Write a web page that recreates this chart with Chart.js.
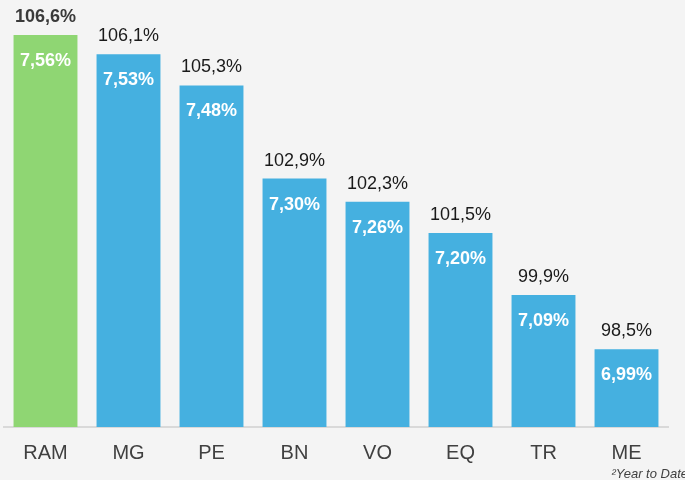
<!DOCTYPE html>
<html>
<head>
<meta charset="utf-8">
<script src="https://cdn.jsdelivr.net/npm/chart.js@4"></script>
<style>
  html, body { margin: 0; padding: 0; background: #f4f4f4; }
  #wrap { width: 685px; height: 480px; position: relative; }
</style>
</head>
<body>
<div id="wrap"><canvas id="chart" width="685" height="480"></canvas></div>
<script>
  // categories and values
  const categories = ['RAM', 'MG', 'PE', 'BN', 'VO', 'EQ', 'TR', 'ME'];
  const indexValues = [106.6, 106.1, 105.3, 102.9, 102.3, 101.5, 99.9, 98.5];
  const rateValues = [7.56, 7.53, 7.48, 7.30, 7.26, 7.20, 7.09, 6.99];
  const footnote = '²Year to Date';

  const GREEN = '#8fd673';
  const BLUE = '#45b0e0';

  const fmt = (v, d) => v.toFixed(d).replace('.', ',') + '%';

  // labels above and inside each bar
  const barLabels = {
    id: 'barLabels',
    afterDatasetsDraw(chart) {
      const ctx = chart.ctx;
      const meta = chart.getDatasetMeta(0);
      ctx.save();
      ctx.textAlign = 'center';
      ctx.textBaseline = 'alphabetic';
      meta.data.forEach((bar, i) => {
        ctx.font = (i === 0 ? 'bold ' : '') + '18px "Liberation Sans", Arial, sans-serif';
        ctx.fillStyle = i === 0 ? '#3a3a3a' : '#1a1a1a';
        ctx.fillText(fmt(indexValues[i], 1), bar.x, bar.y - 13);
        ctx.font = 'bold 18px "Liberation Sans", Arial, sans-serif';
        ctx.fillStyle = '#ffffff';
        ctx.fillText(fmt(rateValues[i], 2), bar.x, bar.y + 31);
      });
      ctx.font = 'italic 13px "Liberation Sans", Arial, sans-serif';
      ctx.fillStyle = '#404040';
      ctx.textAlign = 'right';
      ctx.fillText(footnote, 688, 478);
      ctx.restore();
    }
  };

  new Chart(document.getElementById('chart').getContext('2d'), {
    type: 'bar',
    data: {
      labels: categories,
      datasets: [{
        data: indexValues,
        backgroundColor: categories.map((c, i) => i === 0 ? GREEN : BLUE),
        borderWidth: 0,
        barPercentage: 0.77,
        categoryPercentage: 1
      }]
    },
    options: {
      responsive: false,
      animation: false,
      events: [],
      layout: { padding: { left: 4, right: 17, top: 0, bottom: 1 } },
      plugins: { legend: { display: false }, tooltip: { enabled: false } },
      scales: {
        x: {
          grid: { display: false, drawTicks: false },
          border: { display: true, color: '#d9d9d9', width: 2 },
          ticks: { color: '#404040', font: { family: '"Liberation Sans", Arial, sans-serif', size: 20 }, padding: 14 }
        },
        y: {
          display: false,
          min: 96.5,
          max: 107.5
        }
      }
    },
    plugins: [barLabels]
  });
</script>
</body>
</html>
